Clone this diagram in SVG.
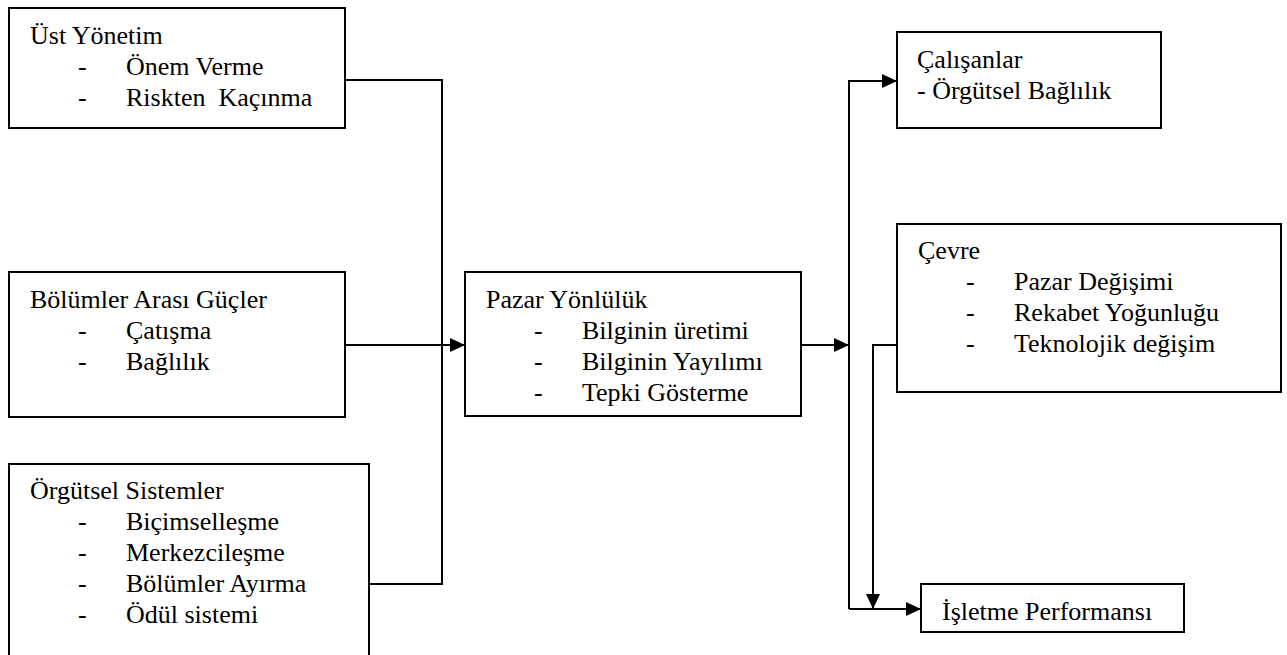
<svg xmlns="http://www.w3.org/2000/svg" width="1287" height="655" viewBox="0 0 1287 655">
<style>
.box{fill:#fff;stroke:#000;stroke-width:2}
.ln{fill:none;stroke:#000;stroke-width:2}
text{font-family:'Liberation Serif','Tinos','Times New Roman','DejaVu Serif',serif;font-size:26px;fill:#000;white-space:pre}
</style>
<defs>
<marker id="ah" markerWidth="15" markerHeight="14" refX="15" refY="7" orient="auto" markerUnits="userSpaceOnUse">
<path d="M0,0 L15,7 L0,14 z" fill="#000"/>
</marker>
</defs>
<rect width="1287" height="655" fill="#fff"/>
<g id="connectors">
<path class="ln" d="M345,80 H442 V584 H369"/>
<path class="ln" d="M345,345 H465" marker-end="url(#ah)"/>
<path class="ln" d="M801,345 H849" marker-end="url(#ah)"/>
<path class="ln" d="M849,609 V81 H897" marker-end="url(#ah)"/>
<path class="ln" d="M849,609 H921" marker-end="url(#ah)"/>
<path class="ln" d="M897,345 H873 V609" marker-end="url(#ah)"/>
</g>
<g font-family="Liberation Serif, serif">
<g id="ust-yonetim">
<rect class="box" x="9" y="8" width="336" height="120"/>
<text x="30" y="44">Üst Yönetim</text>
<text x="78" y="75">-</text><text x="126" y="75">Önem Verme</text>
<text x="78" y="106">-</text><text x="126" y="106">Riskten  Kaçınma</text>
</g>
<g id="bolumler-arasi">
<rect class="box" x="9" y="272" width="336" height="145"/>
<text x="30" y="308">Bölümler Arası Güçler</text>
<text x="78" y="339">-</text><text x="126" y="339">Çatışma</text>
<text x="78" y="370">-</text><text x="126" y="370">Bağlılık</text>
</g>
<g id="orgutsel-sistemler">
<rect class="box" x="9" y="464" width="360" height="200"/>
<text x="30" y="499">Örgütsel Sistemler</text>
<text x="78" y="530">-</text><text x="126" y="530">Biçimselleşme</text>
<text x="78" y="561">-</text><text x="126" y="561">Merkezcileşme</text>
<text x="78" y="592">-</text><text x="126" y="592">Bölümler Ayırma</text>
<text x="78" y="623">-</text><text x="126" y="623">Ödül sistemi</text>
</g>
<g id="pazar-yonluluk">
<rect class="box" x="465" y="272" width="336" height="144"/>
<text x="486" y="308">Pazar Yönlülük</text>
<text x="534" y="339">-</text><text x="582" y="339">Bilginin üretimi</text>
<text x="534" y="370">-</text><text x="582" y="370">Bilginin Yayılımı</text>
<text x="534" y="401">-</text><text x="582" y="401">Tepki Gösterme</text>
</g>
<g id="calisanlar">
<rect class="box" x="897" y="32" width="264" height="96"/>
<text x="917" y="68">Çalışanlar</text>
<text x="917" y="99">- Örgütsel Bağlılık</text>
</g>
<g id="cevre">
<rect class="box" x="897" y="224" width="384" height="168"/>
<text x="918" y="259">Çevre</text>
<text x="966" y="290">-</text><text x="1014" y="290">Pazar Değişimi</text>
<text x="966" y="321">-</text><text x="1014" y="321">Rekabet Yoğunluğu</text>
<text x="966" y="352">-</text><text x="1014" y="352">Teknolojik değişim</text>
</g>
<g id="isletme-performansi">
<rect class="box" x="921" y="584" width="263" height="48"/>
<text x="942" y="620">İşletme Performansı</text>
</g>
</g>
</svg>
